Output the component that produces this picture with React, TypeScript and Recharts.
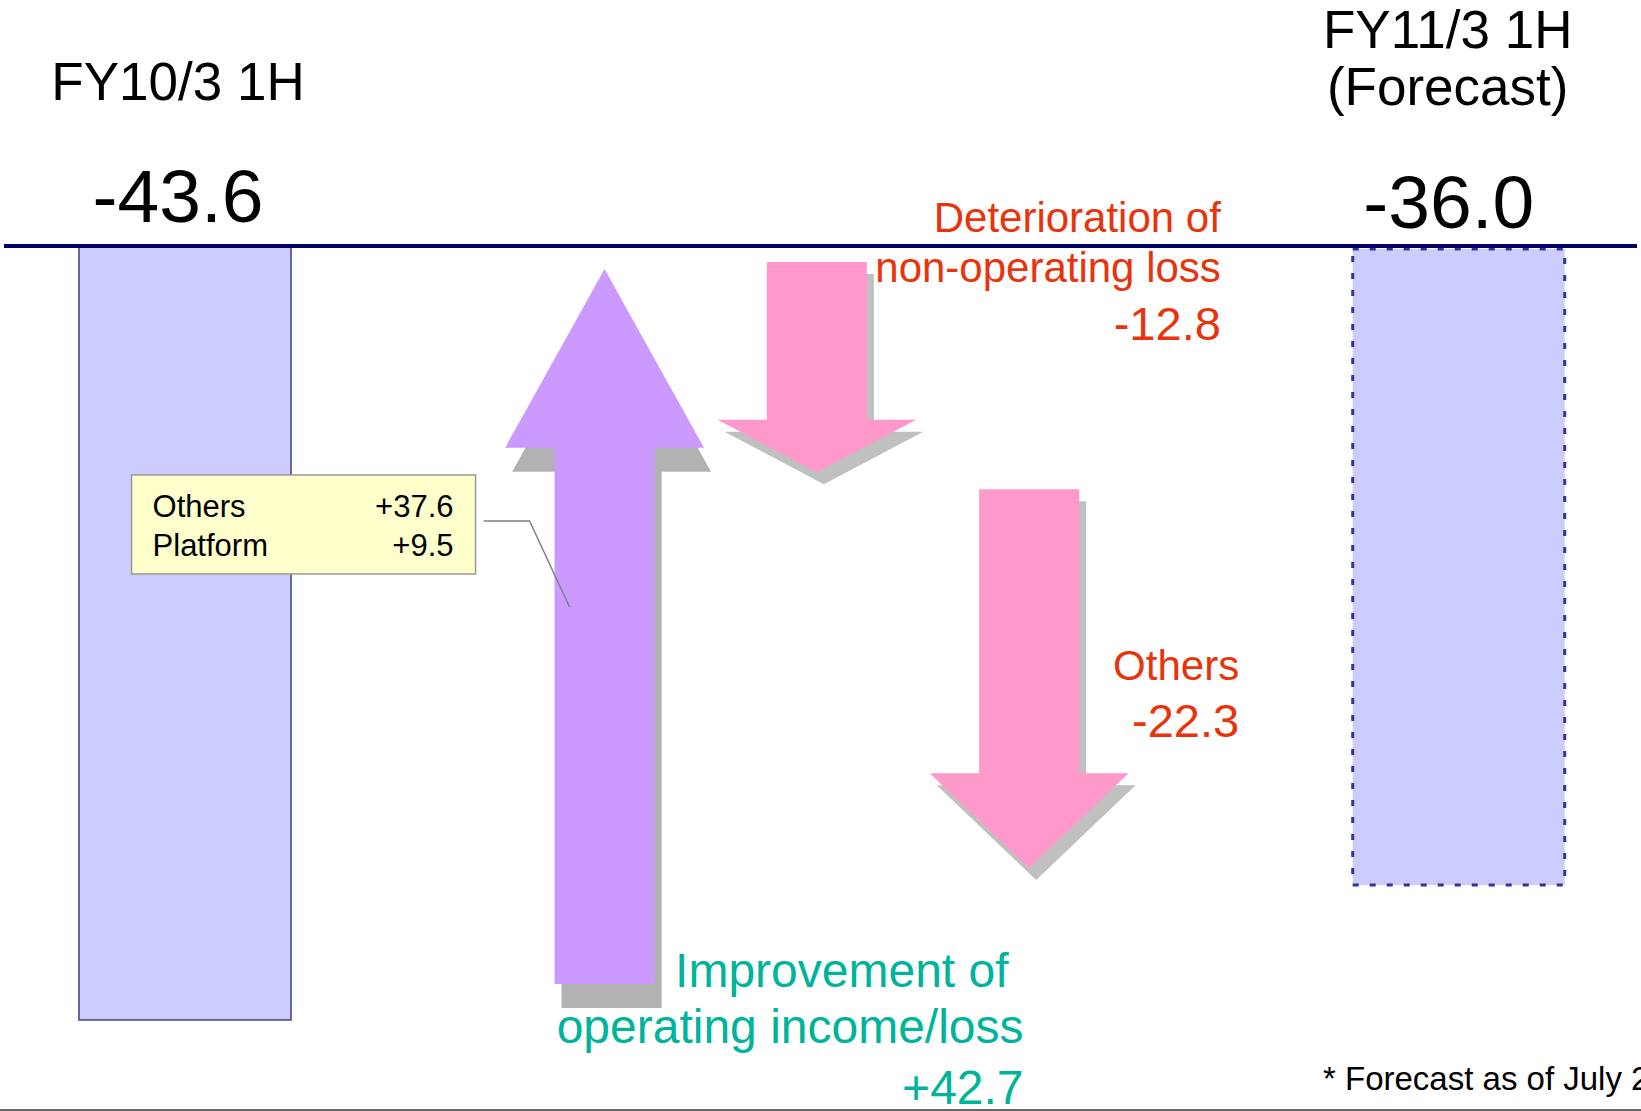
import { BarChart, Bar, XAxis, YAxis, ReferenceLine } from 'recharts';

// values (hundred million yen, ordinary income/loss)
const startLabel = ['FY10/3 1H'];
const startValue = -43.6;
const endLabel = ['FY11/3 1H', '(Forecast)'];
const endValue = -36.0;

const stepLabels = [
  ['Improvement of', 'operating income/loss'],
  ['Deterioration of', 'non-operating loss'],
  ['Others'],
];
const stepValues = [42.7, -12.8, -22.3];

// breakdown shown in the yellow call-out of the first step
const breakdownNames = ['Others', 'Platform'];
const breakdownValues = [37.6, 9.5];

const footnote = '* Forecast as of July 28';

const FONT = '"Liberation Sans", Arial, Helvetica, sans-serif';
const RED = '#E8340C';
const TEAL = '#00B39C';

const fmt = (v: number) => (v > 0 ? '+' : '') + v.toFixed(1);
const round1 = (v: number) => Math.round(v * 10) / 10;

// waterfall rows, with two empty slots to space the bars like the slide
function buildRows() {
  const rows: any[] = [];
  rows.push({ slot: 'start', kind: 'start', range: [startValue, 0], lines: startLabel, value: startValue });
  rows.push({ slot: 'gap-1', range: null });
  let run = startValue;
  stepValues.forEach((v, i) => {
    const next = round1(run + v);
    rows.push({
      slot: 'step-' + i,
      kind: v > 0 ? 'up' : 'down',
      range: [Math.min(run, next), Math.max(run, next)],
      lines: stepLabels[i],
      value: v,
      step: i,
    });
    run = next;
  });
  rows.push({ slot: 'gap-2', range: null });
  rows.push({ slot: 'end', kind: 'end', range: [endValue, 0], lines: endLabel, value: endValue });
  return rows;
}
const rows = buildRows();

function Txt({ x, y, size, color = '#000', anchor = 'start', children }: any) {
  return (
    <text x={x} y={y} fontSize={size} fill={color} textAnchor={anchor} fontFamily={FONT}>
      {children}
    </text>
  );
}

function arrowPoints(cx: number, start: number, tip: number, w: number) {
  const head = 0.469 * w;
  const shaft = 0.236 * w;
  const hl = (tip - start) * 0.25; // signed head length
  const hb = tip - hl;
  return [
    [cx, tip],
    [cx + head, hb],
    [cx + shaft, hb],
    [cx + shaft, start],
    [cx - shaft, start],
    [cx - shaft, hb],
    [cx - head, hb],
  ]
    .map((p) => p.join(','))
    .join(' ');
}

function Callout({ bx, by }: any) {
  return (
    <g>
      <polyline
        points={`${bx + 352},${by + 46} ${bx + 398},${by + 46} ${bx + 438},${by + 132}`}
        fill="none"
        stroke="#808080"
        strokeWidth={1.5}
      />
      <rect x={bx} y={by} width={344} height={99} fill="#FFFFCC" stroke="#999999" strokeWidth={1.5} />
      {breakdownNames.map((n, i) => (
        <g key={n}>
          <Txt x={bx + 21} y={by + 42 + i * 39} size={31}>{n}</Txt>
          <Txt x={bx + 322} y={by + 42 + i * 39} size={31} anchor="end">{fmt(breakdownValues[i])}</Txt>
        </g>
      ))}
    </g>
  );
}

function StepShape(props: any) {
  const { x, y, width, height, payload } = props;
  if (!payload || !payload.kind || !Number.isFinite(y) || !Number.isFinite(height)) return null;
  const top = Math.min(y, y + height);
  const bottom = Math.max(y, y + height);
  const cx = x + width / 2;

  if (payload.kind === 'start') {
    return (
      <g>
        <rect x={x} y={top} width={width} height={bottom - top} fill="#CCCCFF" stroke="#666699" strokeWidth={2} />
        <Txt x={cx - 7} y={top - 146} size={53} anchor="middle">{payload.lines[0]}</Txt>
        <Txt x={cx - 7} y={top - 24} size={75} anchor="middle">{fmt(payload.value)}</Txt>
      </g>
    );
  }

  if (payload.kind === 'end') {
    return (
      <g>
        <rect
          x={x}
          y={top + 3}
          width={width}
          height={bottom - top - 3}
          fill="#CCCCFF"
          stroke="#333399"
          strokeWidth={3}
          strokeDasharray="6 11"
        />
        <Txt x={cx - 11} y={top - 198} size={53} anchor="middle">{payload.lines[0]}</Txt>
        <Txt x={cx - 11} y={top - 141} size={53} anchor="middle">{payload.lines[1]}</Txt>
        <Txt x={cx - 10} y={top - 18} size={75} anchor="middle">{fmt(payload.value)}</Txt>
      </g>
    );
  }

  const ax = cx - 5; // arrows sit a little left of the slot centre

  if (payload.kind === 'up') {
    const start = bottom - 36;
    const tip = top + 7;
    return (
      <g>
        <polygon points={arrowPoints(ax + 7, start + 24, tip + 24, width)} fill="#B2B2B2" />
        <polygon points={arrowPoints(ax, start, tip, width)} fill="#CC99FF" />
        <Callout bx={cx - 478} by={top + 213} />
        <Txt x={cx + 399} y={bottom - 33} size={48} color={TEAL} anchor="end">{payload.lines[0]}</Txt>
        <Txt x={cx + 414} y={bottom + 23} size={48} color={TEAL} anchor="end">{payload.lines[1]}</Txt>
        <Txt x={cx + 414} y={bottom + 84} size={48} color={TEAL} anchor="end">{fmt(payload.value)}</Txt>
      </g>
    );
  }

  // down arrows
  const start = top;
  const tip = bottom - 17;
  const first = payload.step === 1;
  return (
    <g>
      <polygon points={arrowPoints(ax + 7, start + 12, tip + 12, width)} fill="#C0C0C0" />
      <polygon points={arrowPoints(ax, start, tip, width)} fill="#FF99CC" />
      {first ? (
        <g>
          <Txt x={cx + 399} y={top - 30} size={42} color={RED} anchor="end">{payload.lines[0]}</Txt>
          <Txt x={cx + 399} y={top + 20} size={42} color={RED} anchor="end">{payload.lines[1]}</Txt>
          <Txt x={cx + 399} y={top + 78} size={47} color={RED} anchor="end">{fmt(payload.value)}</Txt>
        </g>
      ) : (
        <g>
          <Txt x={cx + 205} y={top + 191} size={42} color={RED} anchor="end">{payload.lines[0]}</Txt>
          <Txt x={cx + 205} y={top + 248} size={47} color={RED} anchor="end">{fmt(payload.value)}</Txt>
        </g>
      )}
    </g>
  );
}

export default function App() {
  return (
    <div style={{ position: 'absolute', left: 0, top: 0, width: 1641, height: 1111, overflow: 'hidden', background: '#fff' }}>
      <BarChart
        width={1641}
        height={1111}
        data={rows}
        margin={{ top: 246, right: 4, bottom: 13, left: 4 }}
        barCategoryGap={0}
        barGap={0}
      >
        <XAxis dataKey="slot" type="category" hide padding={{ left: 75, right: 72 }} />
        <YAxis type="number" domain={[-48, 0]} hide />
        <Bar dataKey="range" isAnimationActive={false} shape={(p: any) => <StepShape {...p} />} />
        <ReferenceLine y={0} stroke="#000066" strokeWidth={4} />
        <text x={1323} y={1090} fontSize={33} fill="#000" fontFamily={FONT}>
          {footnote}
        </text>
        <line x1={0} y1={1110} x2={1641} y2={1110} stroke="#666666" strokeWidth={2} />
      </BarChart>
    </div>
  );
}
